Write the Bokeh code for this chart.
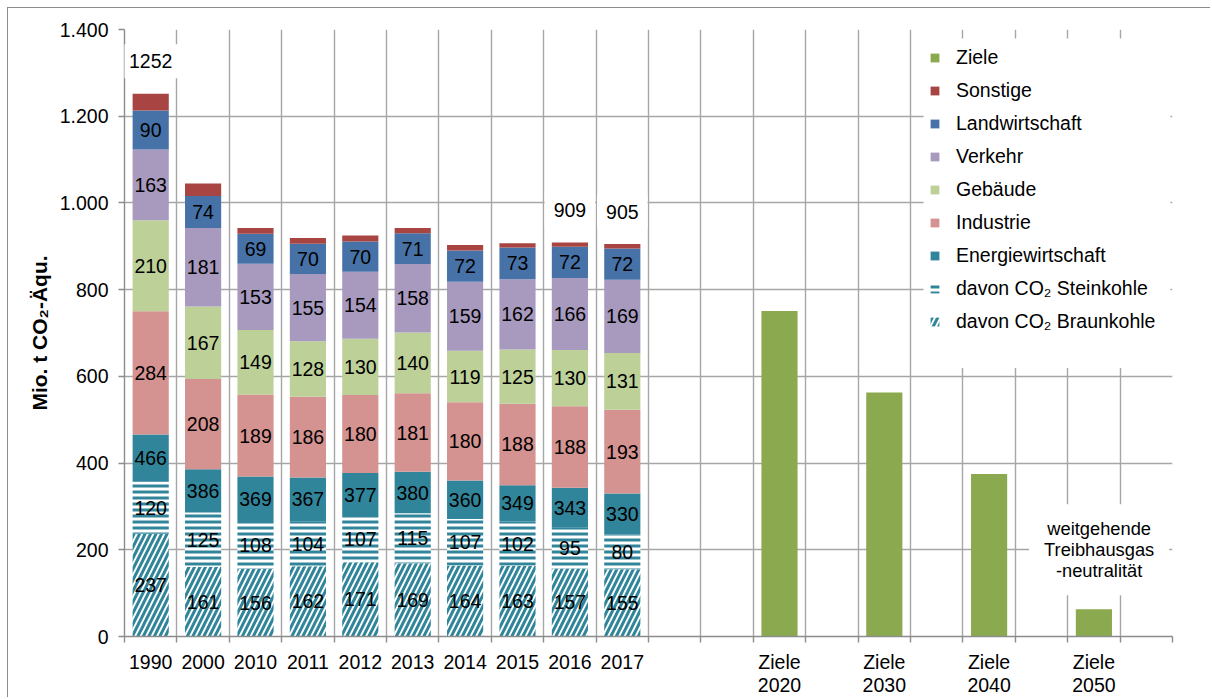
import numpy as np
from bokeh.plotting import figure
from bokeh.models import FixedTicker, Legend, LegendItem, Label, BoxAnnotation
from bokeh.core.properties import value
from bokeh.embed import file_html
from bokeh.resources import INLINE

# ---------------- data ----------------
years = ["1990", "2000", "2010", "2011", "2012", "2013", "2014", "2015", "2016", "2017"]
braunkohle = [237, 161, 156, 162, 171, 169, 164, 163, 157, 155]
steinkohle = [120, 125, 108, 104, 107, 115, 107, 102, 95, 80]
energiewirtschaft = [466, 386, 369, 367, 377, 380, 360, 349, 343, 330]
industrie = [284, 208, 189, 186, 180, 181, 180, 188, 188, 193]
gebaeude = [210, 167, 149, 128, 130, 140, 119, 125, 130, 131]
verkehr = [163, 181, 153, 155, 154, 158, 159, 162, 166, 169]
landwirtschaft = [90, 74, 69, 70, 70, 71, 72, 73, 72, 72]
sonstige = [39, 29, 13, 13, 14, 12, 13, 10, 10, 10]

ziele_labels = ["Ziele\n2020", "Ziele\n2030", "Ziele\n2040", "Ziele\n2050"]
ziele_values = [751, 563, 375, 63]

categories = years + ["", "", "Ziele\n2020", "", "Ziele\n2030", "", "Ziele\n2040", "", "Ziele\n2050", ""]
total_label_years = ["1990", "2016", "2017"]
y_ticks = [0, 200, 400, 600, 800, 1000, 1200, 1400]
y_tick_labels = ["0", "200", "400", "600", "800", "1.000", "1.200", "1.400"]
note_text = "weitgehende\nTreibhausgas\n-neutralität"

# ---------------- style ----------------
FONT = "Liberation Sans"
GRID = "#A6A6A6"
AXIS = "#8C8C8C"
TXT = "#000000"
C_ZIELE = "#8BA94F"
C_SONST = "#A84441"
C_LANDW = "#4672A8"
C_VERK = "#A89ABE"
C_GEB = "#BCD098"
C_IND = "#D49290"
C_ENERG = "#31859B"
BAR_W = 0.69
FS = "19.5px"

n_cat = len(categories)
x_year = np.array([categories.index(y) + 0.5 for y in years])
x_ziele = np.array([categories.index(z) + 0.5 for z in ziele_labels])
boundaries = list(range(0, n_cat + 1))

braun = np.array(braunkohle, dtype=float)
stein = np.array(steinkohle, dtype=float)
energ_rest = np.array(energiewirtschaft, dtype=float) - braun - stein
segs = [braun, stein, energ_rest, np.array(industrie, float), np.array(gebaeude, float),
        np.array(verkehr, float), np.array(landwirtschaft, float), np.array(sonstige, float)]
tops = np.cumsum(segs, axis=0)
bottoms = tops - np.array(segs)
totals = tops[-1]

p = figure(width=1203, height=690, x_range=(0, n_cat), y_range=(0, 1400),
           output_backend="svg", toolbar_location=None,
           min_border_left=116, min_border_right=39, min_border_top=21, min_border_bottom=61)
p.styles = {"border-top": "1px solid #8C8C8C", "border-left": "1px solid #8C8C8C",
            "margin-left": "7px", "margin-top": "7px"}
p.outline_line_color = None
p.background_fill_color = "white"
p.border_fill_color = "white"

# grids
p.xgrid.ticker = FixedTicker(ticks=boundaries)
p.ygrid.ticker = FixedTicker(ticks=y_ticks)
for g in (p.xgrid, p.ygrid):
    g.grid_line_color = GRID
    g.grid_line_width = 1.4

# axes
p.xaxis.ticker = FixedTicker(ticks=list(x_year) + list(x_ziele), minor_ticks=boundaries)
p.xaxis.major_label_overrides = {float(x): lab for x, lab in zip(list(x_year) + list(x_ziele), years + ziele_labels)}
p.xaxis.axis_line_color = AXIS
p.xaxis.axis_line_width = 1.4
p.xaxis.major_tick_line_color = None
p.xaxis.major_tick_out = 6
p.xaxis.minor_tick_line_color = AXIS
p.xaxis.minor_tick_line_width = 1.4
p.xaxis.minor_tick_out = 6
p.xaxis.minor_tick_in = 0
p.xaxis.major_label_standoff = 8
p.xaxis.major_label_text_line_height = 1.05

p.yaxis.ticker = FixedTicker(ticks=y_ticks)
p.yaxis.major_label_overrides = {t: l for t, l in zip(y_ticks, y_tick_labels)}
p.yaxis.axis_line_color = AXIS
p.yaxis.axis_line_width = 1.4
p.yaxis.major_tick_line_color = AXIS
p.yaxis.major_tick_line_width = 1.4
p.yaxis.major_tick_out = 6
p.yaxis.major_tick_in = 0
p.yaxis.minor_tick_line_color = None
p.yaxis.major_label_standoff = 10
p.yaxis.axis_label = "Mio. t CO₂-Äqu."
p.yaxis.axis_label_text_font = FONT
p.yaxis.axis_label_text_font_style = "bold"
p.yaxis.axis_label_text_font_size = "21px"
p.yaxis.axis_label_text_color = TXT
p.yaxis.axis_label_standoff = 6

for ax in (p.xaxis, p.yaxis):
    ax.major_label_text_font = FONT
    ax.major_label_text_font_size = FS
    ax.major_label_text_color = TXT

# bars
r_braun = p.vbar(x=x_year, bottom=bottoms[0], top=tops[0], width=BAR_W, fill_color="white",
                 line_color=None, hatch_pattern="right_diagonal_line", hatch_color=C_ENERG,
                 hatch_scale=11, hatch_weight=3)
r_stein = p.vbar(x=x_year, bottom=bottoms[1], top=tops[1], width=BAR_W, fill_color="white",
                 line_color=None, hatch_pattern="horizontal_line", hatch_color=C_ENERG,
                 hatch_scale=6, hatch_weight=3)
seg_colors = [C_ENERG, C_IND, C_GEB, C_VERK, C_LANDW, C_SONST]
seg_rs = []
for k, col in enumerate(seg_colors):
    i = k + 2
    seg_rs.append(p.vbar(x=x_year, bottom=bottoms[i], top=tops[i], width=BAR_W,
                         fill_color=col, line_color=None))
r_ziele = p.vbar(x=x_ziele, bottom=0, top=ziele_values, width=BAR_W, fill_color=C_ZIELE, line_color=None)

# value labels inside bars
label_vals = [braunkohle, steinkohle, energiewirtschaft, industrie, gebaeude, verkehr, landwirtschaft]
for i, vals in enumerate(label_vals):
    mids = (bottoms[i] + tops[i]) / 2
    p.text(x=x_year, y=mids, text=[str(v) for v in vals], text_align="center",
           text_baseline="middle", text_font=value(FONT), text_font_size=FS, text_color=TXT)

# total labels
for yr in total_label_years:
    j = years.index(yr)
    p.add_layout(Label(x=x_year[j], y=totals[j] + 75, text=str(int(totals[j])),
                       text_align="center", text_baseline="middle", text_font=FONT,
                       text_font_size=FS, text_color=TXT, background_fill_color="white",
                       background_fill_alpha=1.0, padding=(9, 10)))

# note
p.add_layout(Label(x=x_ziele[-1] + 0.1, y=200, text=note_text, text_align="center",
                   text_baseline="middle", text_font=FONT, text_font_size="18.3px",
                   text_color=TXT, text_line_height=1.0, background_fill_color="white",
                   background_fill_alpha=1.0, padding=(15, 14)))

# legend background area
p.add_layout(BoxAnnotation(left=15.25, right=19.96, bottom=619, top=1379, fill_color="white",
                           fill_alpha=1.0, line_color=None))

items = [
    LegendItem(label="Ziele", renderers=[r_ziele]),
    LegendItem(label="Sonstige", renderers=[seg_rs[5]]),
    LegendItem(label="Landwirtschaft", renderers=[seg_rs[4]]),
    LegendItem(label="Verkehr", renderers=[seg_rs[3]]),
    LegendItem(label="Gebäude", renderers=[seg_rs[2]]),
    LegendItem(label="Industrie", renderers=[seg_rs[1]]),
    LegendItem(label="Energiewirtschaft", renderers=[seg_rs[0]]),
    LegendItem(label="davon CO₂ Steinkohle", renderers=[r_stein]),
    LegendItem(label="davon CO₂ Braunkohle", renderers=[r_braun]),
]
legend = Legend(items=items, location=(805, 303), orientation="vertical",
                label_text_font=FONT, label_text_font_size=FS, label_text_color=TXT,
                glyph_width=11, glyph_height=11, label_standoff=16, label_height=23,
                label_width=200, spacing=10, padding=7, margin=0,
                border_line_color=None, background_fill_color="white", background_fill_alpha=0.0)
p.add_layout(legend)

open("out.html", "w").write(file_html(p, INLINE))
